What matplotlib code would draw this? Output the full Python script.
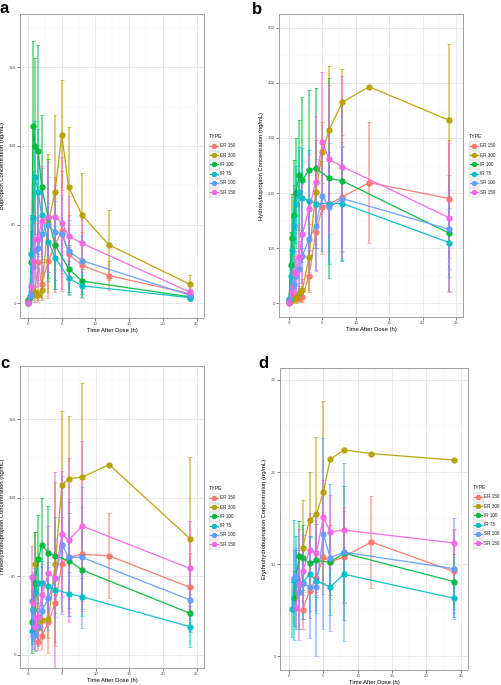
import numpy as np
import matplotlib
matplotlib.use("Agg")
import matplotlib.pyplot as plt
from matplotlib.patches import Rectangle
from matplotlib.ticker import MultipleLocator

plt.rcParams['font.family'] = ['Liberation Sans', 'DejaVu Sans']

nan = np.nan

# sampling times (h) per formulation
t_er = [0, 0.5, 1, 1.5, 2, 3, 4, 5, 6, 8, 12, 24]
t_ir = [0, 0.25, 0.5, 0.75, 1, 1.5, 2, 3, 4, 6, 8, 24]
t_sr = [0, 0.5, 0.75, 1, 1.5, 2, 3, 4, 5, 6, 8, 24]

types = ['ER 150', 'ER 300', 'IR 100', 'IR 75', 'SR 100', 'SR 150']
colors = ['#F8766D', '#B79F00', '#00BA38', '#00BFC4', '#619CFF', '#F564E3']

# a: bupropion
bup_er150 = [0, 5, 6, 26, 12, 27, 37, 46, 31, 24, 17.5, 6]
bup_er150_sd = [nan, 3, 5, 25, 10, 24, 30, 38, 25, 21, 9, 3]
bup_er300 = [0, 5, 7, 5, 8.5, 51, 71, 107, 74, 56, 37, 12]
bup_er300_sd = [nan, 3, 4, 3, 5, 44, 49, 35, 38, 27, 22, 6]
bup_ir100 = [2, 4, 26, 113, 100, 97, 74, 54, 37, 22, 14, 4]
bup_ir100_sd = [1, 3, 20, 54, 56, 67, 46, 38, 28, 15, 8, 2]
bup_ir75 = [0, 4.5, 31, 54, 80, 71, 56, 39, 29, 16, 11, 3.5]
bup_ir75_sd = [nan, 3, 25, 30, 36, 40, 30, 25, 20, 11, 7, 2]
bup_sr100 = [0, 5, 23, 34, 35, 44, 50, 45, 44, 33, 27, 5]
bup_sr100_sd = [nan, 4, 17, 24, 20, 25, 30, 30, 25, 20, 16, 3]
bup_sr150 = [0, 11, 27, 41, 41, 52, 55, 55, 51, 43, 38, 7]
bup_sr150_sd = [nan, 9, 20, 25, 30, 35, 35, 25, 42, 25, 18, 4]

# b: hydroxybupropion
hyd_er150 = [0, 12, 10, 9, 12, 50, 129, 174, 180, 193, 219, 190]
hyd_er150_sd = [nan, 8, 7, 6, 10, 30, 70, 85, 85, 100, 110, 107]
hyd_er300 = [3, 5, 9, 18, 24, 84, 202, 274, 315, 365, 393, 332]
hyd_er300_sd = [2, 4, 8, 14, 20, 60, 95, 55, 115, 60, nan, 138]
hyd_ir100 = [5, 69, 119, 160, 200, 233, 224, 242, 245, 227, 222, 127]
hyd_ir100_sd = [3, 60, 80, 100, 100, 100, 150, 145, 145, 182, 145, 105]
hyd_ir75 = [8, 50, 97, 140, 180, 202, 191, 186, 181, 181, 181, 110]
hyd_ir75_sd = [4, 40, 60, 75, 70, 82, 90, 92, 80, 110, 103, 62]
hyd_sr100 = [5, 30, 35, 50, 63, 86, 117, 141, 195, 174, 190, 134]
hyd_sr100_sd = [3, 20, 25, 30, 50, 50, 60, 80, 100, 100, 95, 72]
hyd_sr150 = [0, 20, 55, 55, 84, 126, 171, 220, 292, 261, 248, 155]
hyd_sr150_sd = [nan, 15, 30, 40, 60, 90, 100, 120, 127, 135, 165, 135]

# c: threohydrobupropion
thr_er150 = [nan, nan, 18, 8, 12, 21, 33, 58, 62, 64, 63, 43]
thr_er150_sd = [nan, nan, 10, 5, 8, 20, 25, 30, 35, 30, 27, 22]
thr_er300 = [nan, nan, 58, 17, 22, 23, 58, 108, 112, 113, 121, 74]
thr_er300_sd = [nan, nan, 20, 8, 10, 12, 52, 47, 40, 60, nan, 52]
thr_ir100 = [nan, nan, 21, 29, 46, 61, 70, 65, 63, 60, 54, 26.5]
thr_ir100_sd = [nan, nan, 20, 20, 32, 28, 30, 30, 25, 30, 25, 12]
thr_ir75 = [nan, nan, 15, 28, 40, 46, 45.5, 44, 41.5, 39, 37, 18]
thr_ir75_sd = [nan, nan, 8, 12, 15, 15, 14, 15, 15, 14, 12, 13]
thr_sr100 = [nan, 34, 12, 12.5, 18, 28, 36, 49, 70, 62, 62, 35]
thr_sr100_sd = [nan, 15, 8, 10, 12, 15, 20, 25, 44, 37, 45, 20]
thr_sr150 = [nan, 49.5, 33, 18, 24, 38, 52, 49, 77, 73, 82, 55]
thr_sr150_sd = [nan, 20, 20, 15, 15, 20, 30, 67, 40, 52, 54, 30]

# d: erythrohydrobupropion
ery_er150 = [nan, nan, nan, nan, 5.0, 7.1, 8.5, 10.8, 10.2, 10.8, 12.4, 9.2]
ery_er150_sd = [nan, nan, nan, nan, 2, 3, 3.5, 4, 4, 5, 5.0, 4.5]
ery_er300 = [nan, nan, nan, nan, 11.8, 14.8, 15.4, 17.8, 21.4, 22.4, 22.0, 21.3]
ery_er300_sd = [nan, nan, nan, nan, 5.2, 5.2, 8.4, 9.9, nan, nan, nan, nan]
ery_ir100 = [nan, nan, nan, 6.3, 8.3, 10.9, 10.7, 10.1, 10.4, 10.2, 11.2, 8.1]
ery_ir100_sd = [nan, nan, nan, 3, 3.2, 3.8, 3.5, 3, 4, 3.5, 7.3, 3]
ery_ir75 = [nan, nan, 5.1, 8.3, 8.0, 7.0, 8.0, 8.9, 8.2, 7.5, 8.9, 6.3]
ery_ir75_sd = [nan, nan, 3, 6.5, 5, 4, 4, 4, 3.5, 3, 3, 2]
ery_sr100 = [nan, nan, 8.5, 8.7, 7.0, 8.0, 7.5, 7.5, 13.3, 10.7, 11.3, 9.5]
ery_sr100_sd = [nan, nan, 3, 3, 4, 4, 5.5, 7.5, 10.4, 8, 9.7, 5.5]
ery_sr150 = [nan, nan, nan, 5.2, 7.8, 9.2, 11.5, 11.2, 15.1, 13.5, 13.7, 12.3]
ery_sr150_sd = [nan, nan, nan, 2, 6, 4, 4, 4.5, 4, 4, 2.5, 1.5]

W, H = 501, 685
fig = plt.figure(figsize=(W / 100, H / 100), dpi=100)


def px_axes(l, t, r, b):
    return fig.add_axes([l / W, 1 - b / H, (r - l) / W, (b - t) / H])


def panel(box, means, sds, ylim, ymaj, xlim, ylabel):
    ax = px_axes(*box)
    times = [t_er, t_er, t_ir, t_ir, t_sr, t_sr]
    for t, m, s, c in zip(times, means, sds, colors):
        t = np.array(t, float)
        m = np.array(m, float)
        s = np.array(s, float)
        ax.errorbar(t, m, yerr=s, fmt='none', ecolor=c, elinewidth=1.1,
                    capsize=1.2, capthick=0.6, alpha=0.65, zorder=2)
        ok = ~np.isnan(m)
        ax.plot(t[ok], m[ok], color=c, lw=0.95, alpha=0.9, marker='o',
                ms=3.6, mec=c, zorder=3)
    ax.set_xlim(*xlim)
    ax.set_ylim(*ylim)
    ax.xaxis.set_major_locator(MultipleLocator(5))
    ax.xaxis.set_minor_locator(MultipleLocator(2.5))
    ax.yaxis.set_major_locator(MultipleLocator(ymaj))
    ax.yaxis.set_minor_locator(MultipleLocator(ymaj / 2))
    ax.grid(which='major', color='#E6E6E6', lw=0.6)
    ax.grid(which='minor', color='#F3F3F3', lw=0.35)
    ax.set_axisbelow(True)
    for sp in ax.spines.values():
        sp.set_color('#A0A0A0')
        sp.set_linewidth(0.7)
    ax.tick_params(which='major', length=2, width=0.5, color='#555555',
                   labelsize=3.2, labelcolor='#555555', pad=1)
    ax.tick_params(which='minor', length=0)
    ax.set_xlabel('Time After Dose (h)', fontsize=4.2, labelpad=1.5)
    ax.set_ylabel(ylabel, fontsize=4.2, labelpad=2.5)
    return ax


panel((20, 14, 204, 318),
      [bup_er150, bup_er300, bup_ir100, bup_ir75, bup_sr100, bup_sr150],
      [bup_er150_sd, bup_er300_sd, bup_ir100_sd, bup_ir75_sd, bup_sr100_sd, bup_sr150_sd],
      (-9.5, 184), 50, (-1.2, 26.1), 'Bupropion Concentration (ng/mL)')
panel((279, 14, 463, 317),
      [hyd_er150, hyd_er300, hyd_ir100, hyd_ir75, hyd_sr100, hyd_sr150],
      [hyd_er150_sd, hyd_er300_sd, hyd_ir100_sd, hyd_ir75_sd, hyd_sr100_sd, hyd_sr150_sd],
      (-25, 525), 100, (-1.5, 26.05), 'Hydroxybupropion Concentration (ng/mL)')
panel((20, 366, 204, 668),
      [thr_er150, thr_er300, thr_ir100, thr_ir75, thr_sr100, thr_sr150],
      [thr_er150_sd, thr_er300_sd, thr_ir100_sd, thr_ir75_sd, thr_sr100_sd, thr_sr150_sd],
      (-8.3, 183.7), 50, (-1.23, 26.1), 'Threohydrobupropion Concentration (ng/mL)')
panel((280, 368, 468, 670),
      [ery_er150, ery_er300, ery_ir100, ery_ir75, ery_sr100, ery_sr150],
      [ery_er150_sd, ery_er300_sd, ery_ir100_sd, ery_ir75_sd, ery_sr100_sd, ery_sr150_sd],
      (-1.5, 31.3), 10, (-1.3, 26.05), 'Erythrohydrobupropion Concentration (ng/mL)')

# overlay in pixel coordinates for panel letters and legends
ov = fig.add_axes([0, 0, 1, 1], zorder=10)
ov.set_xlim(0, W)
ov.set_ylim(H, 0)
ov.axis('off')
ov.patch.set_alpha(0)

for lab, x, y in [('a', 0, 13), ('b', 252, 14), ('c', 0, 368), ('d', 258, 368)]:
    ov.text(x, y, lab, fontsize=12, fontweight='bold', ha='left', va='baseline')


def legend(x0, ytitle):
    ov.text(x0, ytitle, 'TYPE', fontsize=3.8, ha='left', va='center', color='#222222')
    for i, (name, c) in enumerate(zip(types, colors)):
        yc = ytitle + 9.7 + i * 9.3
        ov.add_patch(Rectangle((x0, yc - 4.4), 10, 8.8, fc='#F2F2F2', ec='#DDDDDD', lw=0.4))
        ov.plot([x0 + 0.8, x0 + 9.2], [yc, yc], color=c, lw=0.9)
        ov.plot([x0 + 5], [yc], 'o', color=c, ms=2.8)
        ov.text(x0 + 11.5, yc, name, fontsize=3.3, ha='left', va='center', color='#222222')


legend(209, 136)
legend(469, 136)
legend(209, 488)
legend(473, 487)

fig.savefig('out.png', dpi=100)
